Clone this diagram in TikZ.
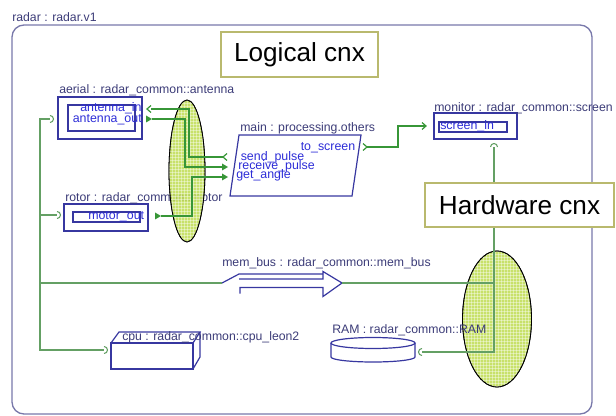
\documentclass[tikz,border=0pt]{standalone}
\usepackage{fontspec}
\setmainfont{Liberation Sans}
\usetikzlibrary{calc}

\definecolor{framecol}{RGB}{120,120,170}
\definecolor{boxcol}{RGB}{55,55,160}
\definecolor{labelcol}{RGB}{60,60,120}
\definecolor{portcol}{RGB}{45,45,215}
\definecolor{wirecol}{RGB}{55,150,55}
\definecolor{hwcol}{RGB}{100,160,100}
\definecolor{calloutcol}{RGB}{185,185,110}
\definecolor{blobcol}{RGB}{190,220,80}

\tikzset{
  frame/.style={draw=framecol, line width=1pt},
  box/.style={draw=boxcol, line width=0.9pt},
  inbox/.style={draw=boxcol, line width=0.9pt},
  lbl/.style={font=\fontsize{9.2}{10}\selectfont, text=labelcol, inner sep=0pt, anchor=base west},
  porttxt/.style={font=\fontsize{9.3}{10}\selectfont, text=portcol, inner sep=0pt, anchor=base west},
  callout/.style={draw=calloutcol, line width=2.2pt, fill=white,
    font=\fontsize{19.6}{22}\selectfont, inner sep=0pt},
  wire/.style={draw=wirecol, line width=1.1pt},
  hw/.style={draw=hwcol, line width=0.8pt},
  blob/.style={draw=black, line width=0.6pt, fill=blobcol, fill opacity=0.85},
  % port markers
  inport/.pic={\draw[wirecol, line width=0.9pt] (3,-3.5) -- (-1,0) -- (3,3.5);},
  outport/.pic={\fill[wirecol] (-3,-3.5) -- (3,0) -- (-3,3.5) -- cycle;},
  openport/.pic={\draw[wirecol, line width=0.9pt] (-3,-3.5) -- (1,0) -- (-3,3.5);},
  socket/.pic={\draw[hwcol, line width=0.8pt] (0,-3.5) arc[start angle=-90, end angle=90, radius=3.5];},
}

\begin{document}
\begin{tikzpicture}[x=0.75pt, y=-0.75pt]
\useasboundingbox (0,0) rectangle (616,416);

% enclosing system
\draw[frame, rounded corners=9pt] (12,25) rectangle (592,414);
\node[lbl] (sys) at (12,21.5) {radar : radar.v1};

% aerial
\draw[box] (58,97) rectangle (142,139);
\draw[inbox] (68,105) rectangle (135,131);
\node[lbl] (aerial) at (59,94) {aerial : radar\_common::antenna};
\node[porttxt] (antin) at (80,112) {antenna\_in};
\node[porttxt] (antout) at (72.5,123) {antenna\_out};

% rotor
\draw[box] (64,204) rectangle (148,231);
\draw[inbox] (73,212) rectangle (140,222);
\node[lbl] (rotor) at (65,202) {rotor : radar\_common::motor};
\node[porttxt] (motout) at (88,220) {motor\_out};

% main
\draw[box] (239,135) -- (361,135) -- (352,196) -- (230,196) -- cycle;
\node[lbl] (main) at (240,132) {main : processing.others};
\node[porttxt] (tosc) at (300.5,151) {to\_screen};
\node[porttxt] (sendp) at (240.5,160.5) {send\_pulse};
\node[porttxt] (recvp) at (238,170) {receive\_pulse};
\node[porttxt] (getang) at (236,178.5) {get\_angle};

% monitor
\draw[box] (434,113) rectangle (517,139);
\draw[inbox] (439,122) rectangle (507,132);
\node[lbl] (monitor) at (434,112) {monitor : radar\_common::screen};
\node[porttxt] (scrin) at (440,130) {screen\_in};

% memory bus
\node[lbl] (membus) at (222,267) {mem\_bus : radar\_common::mem\_bus};
\coordinate (mb-in) at (222,283);
\coordinate (mb-tip) at (342,283);
\draw[box, line join=miter] (mb-in) -- (239,274) -- (323,274);
\draw[box, line join=miter] (239,279) -- (323,279) -- (323,271.5) -- (mb-tip)
  -- (323,296.5) -- (323,287.5) -- (240,287.5) -- (240,293.5);

% cpu
\draw[box] (111,343) rectangle (193,369);
\draw[box] (111,343) -- (119,332) -- (200,332) -- (193,343);
\draw[box] (200,332) -- (200,357) -- (193,369);
\node[lbl] (cpu) at (122,340) {cpu : radar\_common::cpu\_leon2};

% RAM
\draw[box] (373,343) ellipse[x radius=42, y radius=5.5];
\draw[box] (331,343) -- (331,357) arc[start angle=180, end angle=0, x radius=42, y radius=5] -- (415,343);

% highlighted groups of connections, with a fine mesh
\foreach \cx/\cy/\rx/\ry in {187/171/18/71, 497/319/34.5/68}{
  \draw[blob] (\cx,\cy) ellipse[x radius=\rx, y radius=\ry];
  \begin{scope}
    \clip (\cx,\cy) ellipse[x radius=\rx, y radius=\ry];
    \foreach \k in {0,3,...,144}{
      \draw[white, opacity=0.4, line width=0.35pt] (\cx-\rx+\k,\cy-\ry) -- (\cx-\rx+\k,\cy+\ry);
      \draw[white, opacity=0.4, line width=0.35pt] (\cx-\rx,\cy-\ry+\k) -- (\cx+\rx,\cy-\ry+\k);
    }
  \end{scope}
  \draw[black, line width=0.6pt] (\cx,\cy) ellipse[x radius=\rx, y radius=\ry];
}
\node[lbl] (ram) at (332,333) {RAM : radar\_common::RAM};

% port markers
\pic at (148,109) {inport};
\pic at (149,119) {outport};
\pic at (158,216) {outport};
\pic at (224,157) {inport};
\pic at (225,167) {outport};
\pic at (225,177) {outport};
\pic at (366,147) {openport};
\pic at (425,126) {openport};

% logical connections
\coordinate (aer-in) at (151,109);
\coordinate (aer-out) at (152,119);
\coordinate (rot-out) at (161,216);
\coordinate (m-send) at (223,157);
\coordinate (m-recv) at (222,167);
\coordinate (m-ang) at (222,177);
\coordinate (m-tosc) at (367,147);
\coordinate (mon-in) at (426,126);
\coordinate (bendA) at (189,157);
\coordinate (bendB) at (185,167);
\coordinate (bendC) at (192,177);
\coordinate (bendD) at (398,126);
\draw[wire] (aer-in) -| (bendA) -- (m-send);
\draw[wire] (aer-out) -| (bendB) -- (m-recv);
\draw[wire] (rot-out) -| (bendC) -- (m-ang);
\draw[wire] (m-tosc) -| (bendD) -- (mon-in);

% hardware connections
\coordinate (h-aer) at (50,119);
\coordinate (h-rot) at (57,215);
\coordinate (h-cpu) at (104,350);
\coordinate (h-mon) at (494,147);
\coordinate (h-ram) at (422,352);
\coordinate (bus-top) at (40,119);
\coordinate (bus-bot) at (40,350);
\coordinate (hw-bend) at (494,352);
\pic at (h-aer) {socket};
\pic at (h-rot) {socket};
\pic at (h-cpu) {socket};
\pic[rotate=90] at (h-mon) {socket};
\pic[rotate=180] at (h-ram) {socket};
\draw[hw] (h-aer) -- (bus-top) -- (bus-bot) -- (h-cpu);
\draw[hw] (bus-top |- h-rot) -- (h-rot);
\draw[hw] (bus-top |- mb-in) -- (mb-in);
\draw[hw] (h-mon) -- (hw-bend) -- (h-ram);
\draw[hw] (mb-tip) -- (h-mon |- mb-tip);

% callouts
\node[callout, minimum width=117.75pt, minimum height=33.75pt] (logical) at (299.5,54.5) {Logical cnx};
\node[callout, minimum width=141.75pt, minimum height=33pt] (hardware) at (519.5,205) {Hardware cnx};
\end{tikzpicture}
\end{document}
